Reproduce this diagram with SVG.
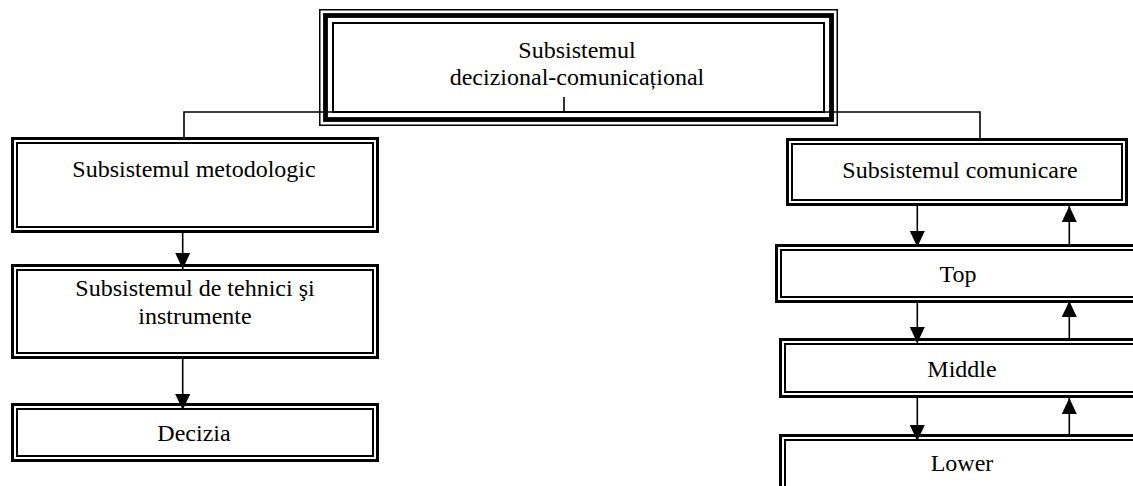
<svg xmlns="http://www.w3.org/2000/svg" width="1133" height="486" viewBox="0 0 1133 486">
<style>
.o{fill:#fff;stroke:#000;stroke-width:3}
.i{fill:none;stroke:#000;stroke-width:2}
.t{font-family:"Liberation Serif","Times New Roman",serif;font-size:24px;fill:#000;text-anchor:middle}
.c{stroke:#000;stroke-width:1.6;fill:none}
.a{stroke:#000;stroke-width:1.6;fill:none;marker-end:url(#ah)}
</style>
<defs>
<marker id="ah" markerUnits="userSpaceOnUse" markerWidth="16" markerHeight="15" refX="16" refY="7.5" orient="auto">
<path d="M0,0 L16,7.5 L0,15 z" fill="#000"/>
</marker>
</defs>
<rect width="1133" height="486" fill="#fff"/>
<g id="node-top">
<rect x="319.75" y="9.75" width="517.5" height="115.5" fill="#fff" stroke="#000" stroke-width="1.5"/>
<rect x="325.5" y="15.5" width="506" height="104" fill="none" stroke="#000" stroke-width="4.8"/>
<rect x="333" y="23" width="491" height="89" fill="none" stroke="#000" stroke-width="2"/>
<text class="t" x="577" y="58">Subsistemul</text>
<text class="t" x="577" y="85">decizional-comunicațional</text>
</g>
<g id="node-metodologic">
<rect class="o" x="12.5" y="138.5" width="365" height="93"/>
<rect class="i" x="17" y="143" width="356" height="84"/>
<text class="t" x="194" y="177">Subsistemul metodologic</text>
</g>
<g id="node-tehnici">
<rect class="o" x="12.5" y="265.5" width="365" height="92"/>
<rect class="i" x="17" y="270" width="356" height="83"/>
<text class="t" x="195" y="296">Subsistemul de tehnici şi</text>
<text class="t" x="195" y="324">instrumente</text>
</g>
<g id="node-decizia">
<rect class="o" x="12.5" y="404.5" width="365" height="56"/>
<rect class="i" x="17" y="409" width="356" height="47"/>
<text class="t" x="194" y="441">Decizia</text>
</g>
<g id="node-comunicare">
<rect class="o" x="787.5" y="139.5" width="339" height="65"/>
<rect class="i" x="792" y="144" width="330" height="56"/>
<text class="t" x="960" y="178">Subsistemul comunicare</text>
</g>
<g id="node-top-level">
<rect class="o" x="776.5" y="245.5" width="380" height="56"/>
<rect class="i" x="781" y="250" width="380" height="47"/>
<text class="t" x="958" y="282">Top</text>
</g>
<g id="node-middle">
<rect class="o" x="780.5" y="339.5" width="380" height="57"/>
<rect class="i" x="785" y="344" width="380" height="48"/>
<text class="t" x="962" y="377">Middle</text>
</g>
<g id="node-lower">
<rect class="o" x="780.5" y="435.5" width="380" height="80"/>
<rect class="i" x="785" y="440" width="380" height="80"/>
<text class="t" x="962" y="471">Lower</text>
</g>
<g id="connectors">
<path class="c" d="M564,97 V112 M184,140 V112 H980 V140"/>
<line class="a" x1="182.7" y1="233" x2="182.7" y2="269"/>
<line class="a" x1="182.7" y1="359" x2="182.7" y2="410"/>
<line class="a" x1="917.3" y1="206" x2="917.3" y2="247"/>
<line class="a" x1="917.3" y1="303" x2="917.3" y2="343"/>
<line class="a" x1="917.3" y1="398" x2="917.3" y2="441"/>
<line class="a" x1="1069.3" y1="247" x2="1069.3" y2="206"/>
<line class="a" x1="1069.3" y1="340" x2="1069.3" y2="301"/>
<line class="a" x1="1069.3" y1="437" x2="1069.3" y2="398"/>
</g>
</svg>
